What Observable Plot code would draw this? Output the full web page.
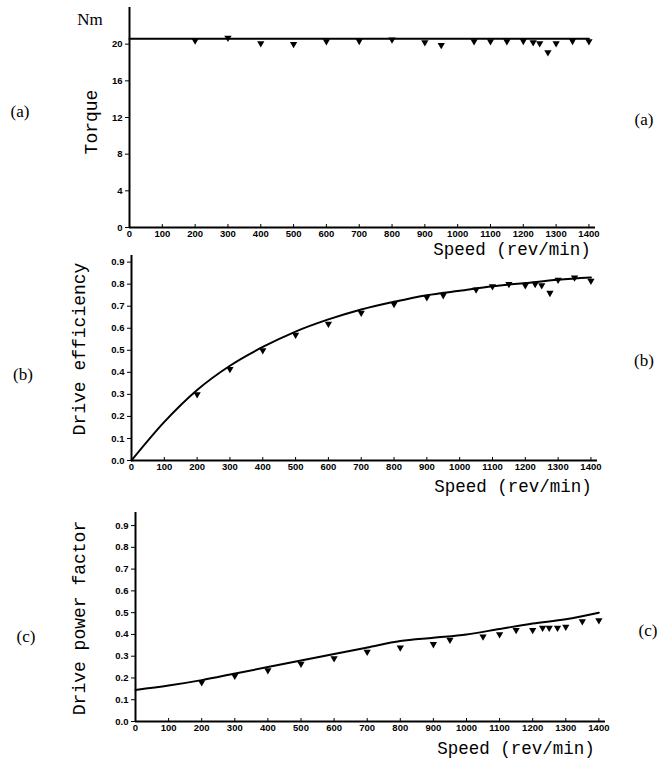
<!DOCTYPE html>
<html><head><meta charset="utf-8">
<script src="https://cdn.jsdelivr.net/npm/d3@7"></script>
<script src="https://cdn.jsdelivr.net/npm/@observablehq/plot@0.6"></script>
<style>
body{margin:0;background:#fff;}
#wrap{position:relative;width:666px;height:763px;overflow:hidden;background:#fff;}
.p{position:absolute;left:0;}
.lab{position:absolute;white-space:nowrap;color:#000;transform:translate(-50%,-50%);line-height:1;}
.mono{font-family:"Liberation Mono","DejaVu Sans Mono",monospace;font-size:17.5px;}
.vmono{font-family:"Liberation Mono","DejaVu Sans Mono",monospace;font-size:18px;}
.serif{font-family:"Liberation Serif","DejaVu Serif",serif;font-size:17px;}
.vert{transform:translate(-50%,-50%) rotate(-90deg);}
</style></head>
<body><div id="wrap"></div>
<script>
// ---- data ----
const xTicks = [0,100,200,300,400,500,600,700,800,900,1000,1100,1200,1300,1400];
const speeds = [200,300,400,500,600,700,800,900,950,1050,1100,1150,1200,1230,1250,1275,1300,1350,1400];
const torqueMeasured = [20.4,20.7,20.1,20.0,20.3,20.35,20.5,20.2,19.9,20.3,20.3,20.3,20.35,20.2,20.1,19.1,20.1,20.35,20.3];
const torqueLineX = [0,1400];
const torqueLineY = [20.6,20.6];
const torqueTicks = [0,4,8,12,16,20];

const effMeasured = [0.30,0.415,0.50,0.57,0.62,0.67,0.71,0.74,0.75,0.775,0.79,0.80,0.795,0.80,0.795,0.76,0.82,0.83,0.815];
const curveX = [0,100,200,300,400,500,600,700,800,900,1000,1100,1200,1300,1400];
const effCurve = [0,0.175,0.32,0.43,0.515,0.585,0.64,0.685,0.72,0.75,0.77,0.79,0.805,0.82,0.83];

const pfMeasured = [0.18,0.21,0.235,0.265,0.29,0.32,0.34,0.355,0.375,0.39,0.40,0.42,0.42,0.43,0.43,0.43,0.435,0.46,0.465];
const pfCurve = [0.145,0.165,0.19,0.22,0.25,0.28,0.31,0.34,0.37,0.385,0.40,0.425,0.45,0.47,0.50];
const fracTicks = [0,0.1,0.2,0.3,0.4,0.5,0.6,0.7,0.8,0.9];

// ---- drawing ----
const wrap = document.getElementById("wrap");

function panel(o) {
  const pts = speeds.map((s, i) => ({x: s, y: o.meas[i]}));
  const line = o.lineX.map((s, i) => ({x: s, y: o.lineY[i]}));
  const svg = Plot.plot({
    width: 666, height: o.height,
    marginTop: o.mt, marginBottom: o.mb, marginLeft: o.ml, marginRight: o.mr,
    style: {fontFamily: "'Liberation Sans', Arial, sans-serif", fontSize: "9.5px", fontWeight: "bold", background: "transparent", color: "#000"},
    x: {domain: [0, 1420]},
    y: {domain: o.yDomain},
    marks: [
      Plot.axisX({ticks: xTicks, tickSize: 0, tickPadding: 3, label: null, tickFormat: d => String(d)}),
      Plot.axisX({ticks: xTicks, tickSize: 3, dy: -3, label: null, tickFormat: () => ""}),
      Plot.axisY({ticks: o.yTicks, tickSize: 4, tickPadding: 3, label: null, tickFormat: o.yFmt}),
      Plot.ruleY([o.yDomain[0]], {stroke: "#000", strokeWidth: 2}),
      Plot.ruleX([0], {stroke: "#000", strokeWidth: 2}),
      Plot.line(line, {x: "x", y: "y", stroke: "#000", strokeWidth: 2, curve: o.curve}),
      Plot.dot(pts, {x: "x", y: "y", symbol: "triangle", rotate: 180, r: 2.7, fill: "#000", stroke: "none"})
    ]
  });
  svg.classList.add("p");
  svg.style.top = o.top + "px";
  wrap.appendChild(svg);
}

panel({top: 0, height: 250, mt: 7, mb: 23, ml: 129, mr: 71, yDomain: [0, 24], yTicks: torqueTicks, yFmt: d => String(d),
  meas: torqueMeasured, lineX: torqueLineX, lineY: torqueLineY, curve: "linear"});
panel({top: 240, height: 250, mt: 15, mb: 30, ml: 131, mr: 69, yDomain: [0, 0.93], yTicks: fracTicks, yFmt: d => d.toFixed(1),
  meas: effMeasured, lineX: curveX, lineY: effCurve, curve: "monotone-x"});
panel({top: 490, height: 260, mt: 22, mb: 29, ml: 135, mr: 61, yDomain: [0, 0.96], yTicks: fracTicks, yFmt: d => d.toFixed(1),
  meas: pfMeasured, lineX: curveX, lineY: pfCurve, curve: "monotone-x"});

function label(text, x, y, cls) {
  const d = document.createElement("div");
  d.className = "lab " + cls;
  d.textContent = text;
  d.style.left = x + "px";
  d.style.top = y + "px";
  wrap.appendChild(d);
}
label("Nm", 90, 19, "serif");
label("Torque", 92, 122, "vmono vert");
label("Drive efficiency", 80, 349, "vmono vert");
label("Drive power factor", 80, 618, "vmono vert");
label("Speed (rev/min)", 512, 251, "mono");
label("Speed (rev/min)", 513, 488, "mono");
label("Speed (rev/min)", 516, 750, "mono");
label("(a)", 20, 111, "serif");
label("(b)", 23, 374, "serif");
label("(c)", 26, 636, "serif");
label("(a)", 644, 119, "serif");
label("(b)", 644, 360, "serif");
label("(c)", 648, 630, "serif");
</script>
</body></html>
